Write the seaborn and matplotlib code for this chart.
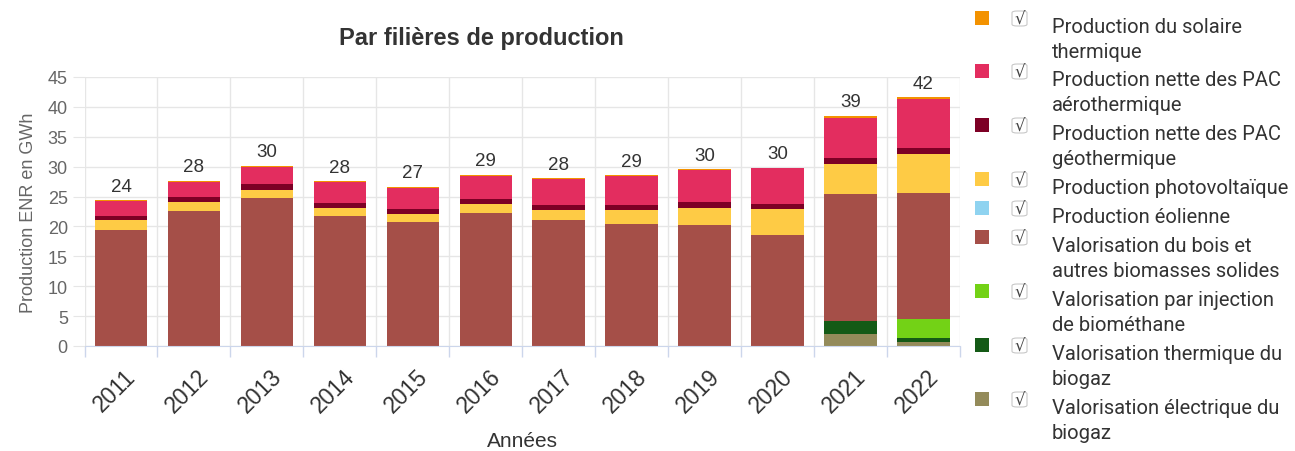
import numpy as np
import pandas as pd
import matplotlib
matplotlib.use("Agg")
import matplotlib.pyplot as plt
from matplotlib.patches import Rectangle, FancyBboxPatch
from matplotlib.transforms import ScaledTranslation
import seaborn as sns

years = ["2011", "2012", "2013", "2014", "2015", "2016", "2017", "2018", "2019", "2020", "2021", "2022"]
solaire_thermique = [0.15, 0.15, 0.15, 0.15, 0.15, 0.15, 0.15, 0.15, 0.15, 0.15, 0.35, 0.3]
pac_aero = [2.4, 2.5, 2.9, 3.4, 3.6, 3.9, 4.3, 4.8, 5.3, 5.9, 6.8, 8.2]
pac_geo = [0.8, 0.9, 1.0, 0.9, 0.9, 0.9, 0.9, 0.9, 1.0, 0.9, 0.9, 1.0]
photovoltaique = [1.6, 1.5, 1.4, 1.4, 1.2, 1.5, 1.6, 2.3, 2.8, 4.4, 5.1, 6.5]
eolien = [0, 0, 0, 0, 0, 0, 0, 0, 0, 0, 0, 0]
bois = [19.4, 22.6, 24.7, 21.7, 20.8, 22.2, 21.1, 20.4, 20.3, 18.5, 21.3, 21.0]
injection_biomethane = [0, 0, 0, 0, 0, 0, 0, 0, 0, 0, 0, 3.3]
biogaz_thermique = [0, 0, 0, 0, 0, 0, 0, 0, 0, 0, 2.1, 0.6]
biogaz_electrique = [0, 0, 0, 0, 0, 0, 0, 0, 0, 0, 2.0, 0.7]

# legend order (top to bottom of stack)
series_labels = [
    "Production du solaire\nthermique",
    "Production nette des PAC\naérothermique",
    "Production nette des PAC\ngéothermique",
    "Production photovoltaïque",
    "Production éolienne",
    "Valorisation du bois et\nautres biomasses solides",
    "Valorisation par injection\nde biométhane",
    "Valorisation thermique du\nbiogaz",
    "Valorisation électrique du\nbiogaz",
]
series_values = [solaire_thermique, pac_aero, pac_geo, photovoltaique, eolien, bois,
                 injection_biomethane, biogaz_thermique, biogaz_electrique]
colors = ["#F39200", "#E32D5F", "#7D0025", "#FECB45", "#8FD3F0", "#A54F48",
          "#73D216", "#145A16", "#948B5A"]

df = pd.DataFrame({"Année": years})
cum = np.zeros(len(years))
cum_cols = {}
for lab, vals in zip(series_labels[::-1], series_values[::-1]):
    cum = cum + np.array(vals, dtype=float)
    col = "cum_" + lab
    df[col] = cum.copy()
    cum_cols[lab] = col
totals = cum

fig = plt.figure(figsize=(12.95, 4.52), dpi=100)
ax = fig.add_axes([84.5 / 1295, 105 / 452, 875.5 / 1295, 269 / 452])

first_container = None
for lab, colr in zip(series_labels, colors):
    sns.barplot(data=df, x="Année", y=cum_cols[lab], color=colr, saturation=1,
                width=0.72, errorbar=None, ax=ax, linewidth=0)
    if first_container is None:
        first_container = ax.containers[0]

labels = [str(int(np.floor(v + 0.5))) for v in totals]
ax.bar_label(first_container, labels=labels, padding=4, fontsize=13.5,
             color="#333333", family="Liberation Sans")

ax.set_ylim(0, 45)
ax.set_xlim(-0.5, len(years) - 0.5)
ax.set_yticks(np.arange(0, 46, 5))
ax.set_axisbelow(True)
ax.yaxis.grid(True, color="#e6e6e6", linewidth=1)
ax.set_xticks(np.arange(-0.5, len(years), 1.0), minor=True)
ax.xaxis.grid(True, which="minor", color="#e6e6e6", linewidth=1)
ax.xaxis.grid(False, which="major")
ax.tick_params(axis="x", which="major", length=0, pad=13)
ax.tick_params(axis="x", which="minor", length=8, color="#ccd6eb", width=1)
ax.tick_params(axis="y", length=9, color="#e6e6e6", pad=3, labelsize=13,
               labelcolor="#666666")
for s in ["top", "right", "left"]:
    ax.spines[s].set_visible(False)
ax.spines["bottom"].set_color("#ccd6eb")
for t in ax.get_yticklabels():
    t.set_family("Liberation Sans")
ax.set_xticks(range(len(years)))
ax.set_xticklabels(years, rotation=45, ha="right", rotation_mode="anchor",
                   fontsize=16.5, color="#333333", family="Liberation Sans")
shift = ScaledTranslation(3 / 100, 0, fig.dpi_scale_trans)
for t in ax.get_xticklabels():
    t.set_transform(t.get_transform() + shift)
ax.set_xlabel("")
ax.set_ylabel("Production ENR en GWh", fontsize=13, color="#666666",
              family="Liberation Sans", labelpad=8)

fig.text(481 / 1295, 1 - 38 / 452, "Par filières de production", ha="center",
         va="center", fontsize=17, fontweight="bold", color="#333333",
         family="Liberation Sans")
fig.text(522 / 1295, 1 - 442 / 452, "Années", ha="center", va="center",
         fontsize=15, color="#333333", family="Liberation Sans")

# custom legend
W, H = 1295, 452
sq_centers = [19, 72, 126, 180, 209, 238, 292, 346, 400]
for yc, lab, colr in zip(sq_centers, series_labels, colors):
    fig.patches.append(Rectangle((975 / W, 1 - (yc + 7) / H), 14 / W, 14 / H,
                                 transform=fig.transFigure, facecolor=colr,
                                 edgecolor="none"))
    fig.patches.append(FancyBboxPatch((1012 / W, 1 - (yc + 8) / H), 15 / W, 15 / H,
                                      boxstyle="round,pad=0,rounding_size=0.004",
                                      transform=fig.transFigure, facecolor="white",
                                      edgecolor="#c8c8c8", linewidth=0.8))
    fig.text(1019.5 / W, 1 - (yc + 0.5) / H, "√", ha="center", va="center",
             fontsize=12, color="#444444", family="DejaVu Sans")
    for i, line in enumerate(lab.split("\n")):
        fig.text(1052 / W, 1 - (yc + 14 + 25 * i) / H, line, ha="left",
                 va="baseline", fontsize=14.5, color="#333333", family="Roboto")

fig.savefig("out.png", dpi=100)
